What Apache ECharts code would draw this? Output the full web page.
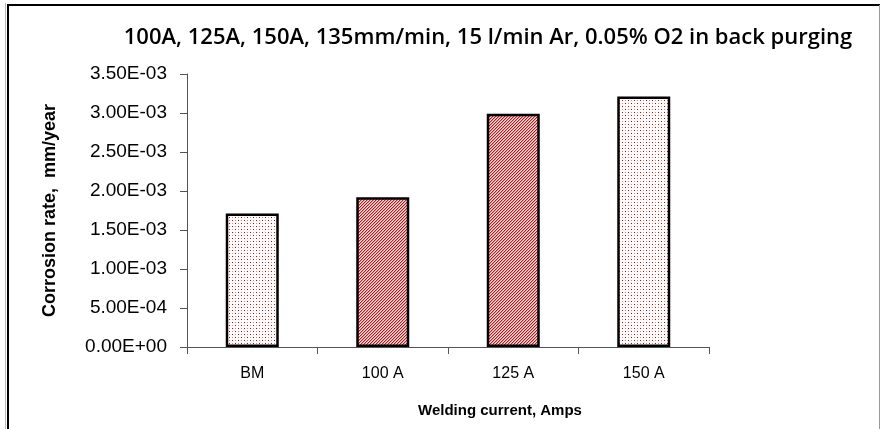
<!DOCTYPE html>
<html>
<head>
<meta charset="utf-8">
<script src="https://cdn.jsdelivr.net/npm/echarts@6/dist/echarts.min.js"></script>
<style>
  html, body { margin: 0; padding: 0; background: #fff; }
  #chart { width: 880px; height: 429px; }
</style>
</head>
<body>
<div id="chart"></div>
<script>
  // data
  var categories = ['BM', '100 A', '125 A', '150 A']
  var corrosionRate = [0.00171, 0.00192, 0.00299, 0.00321]
  var patternKind = ['dots', 'hatch', 'hatch', 'dots']

  // fill patterns, like the excel dot / diagonal fills
  function makePattern(kind) {
    var c = document.createElement('canvas')
    var ctx = c.getContext('2d')
    if (kind === 'hatch') {
      c.width = 3
      c.height = 3
      ctx.fillStyle = '#f6dede'
      ctx.fillRect(0, 0, 3, 3)
      for (var i = 0; i < 3; i++) {
        ctx.fillStyle = '#b81818'
        ctx.fillRect(i, 2 - i, 1, 1)
        ctx.fillStyle = '#e29a9a'
        ctx.fillRect((i + 1) % 3, 2 - i, 1, 1)
      }
    } else {
      c.width = 6
      c.height = 6
      ctx.fillStyle = '#fff'
      ctx.fillRect(0, 0, 6, 6)
      ctx.fillStyle = '#c00000'
      ctx.fillRect(1, 1, 1, 1)
      ctx.fillRect(4, 4, 1, 1)
      ctx.fillStyle = '#f08080'
      ctx.fillRect(4, 1, 1, 1)
      ctx.fillRect(1, 4, 1, 1)
    }
    return c
  }

  var patterns = {dots: makePattern('dots'), hatch: makePattern('hatch')}

  function sci(v) {
    if (v === 0) return '0.00E+00'
    var e = Math.floor(Math.log10(Math.abs(v)) + 1e-9)
    var m = v / Math.pow(10, e)
    var sign = e < 0 ? '-' : '+'
    var ex = Math.abs(e)
    return m.toFixed(2) + 'E' + sign + (ex < 10 ? '0' + ex : ex)
  }

  var chart = echarts.init(document.getElementById('chart'))

  chart.setOption({
    animation: false,
    backgroundColor: '#fff',
    title: {
      text: '100A, 125A, 150A, 135mm/min, 15 l/min Ar, 0.05% O2 in back purging',
      left: 483,
      textAlign: 'center',
      top: 22,
      textStyle: {
        fontFamily: 'Open Sans',
        fontSize: 22,
        fontWeight: 600,
        color: '#000'
      }
    },
    graphic: [
      {
        type: 'line',
        shape: {x1: 5.5, y1: 3, x2: 5.5, y2: 429},
        style: {stroke: '#bbb', lineWidth: 1}
      },
      {
        type: 'line',
        shape: {x1: 8, y1: 4, x2: 8, y2: 429},
        style: {stroke: '#000', lineWidth: 2}
      },
      {
        type: 'line',
        shape: {x1: 7, y1: 5, x2: 880, y2: 5},
        style: {stroke: '#000', lineWidth: 2}
      },
      {
        type: 'line',
        shape: {x1: 879.5, y1: 5, x2: 879.5, y2: 429},
        style: {stroke: '#999', lineWidth: 1}
      }
    ],
    grid: {
      left: 187,
      right: 171,
      top: 74,
      bottom: 82
    },
    xAxis: {
      type: 'category',
      data: categories,
      name: 'Welding current, Amps',
      nameLocation: 'middle',
      nameGap: 56,
      nameTextStyle: {
        fontFamily: 'Liberation Sans',
        fontSize: 15,
        fontWeight: 'bold',
        color: '#000',
        padding: [0, 0, 0, 104]
      },
      axisLine: {lineStyle: {color: '#555', width: 1}},
      axisTick: {show: true, length: 7, lineStyle: {color: '#555'}},
      axisLabel: {
        margin: 19,
        fontFamily: 'Liberation Sans',
        fontSize: 16,
        color: '#000'
      }
    },
    yAxis: {
      type: 'value',
      min: 0,
      max: 0.0035,
      interval: 0.0005,
      name: 'Corrosion rate,  mm/year',
      nameLocation: 'middle',
      nameGap: 128,
      nameTextStyle: {
        fontFamily: 'Liberation Sans',
        fontSize: 18,
        fontWeight: 'bold',
        color: '#000'
      },
      axisLine: {show: true, lineStyle: {color: '#555', width: 1}},
      axisTick: {show: true, length: 7, lineStyle: {color: '#555'}},
      splitLine: {show: false},
      axisLabel: {
        margin: 20,
        fontFamily: 'Liberation Sans',
        fontSize: 19,
        color: '#000',
        formatter: sci
      }
    },
    series: [
      {
        type: 'bar',
        barWidth: 53,
        data: corrosionRate.map(function (v, i) {
          return {
            value: v,
            itemStyle: {
              color: {image: patterns[patternKind[i]], repeat: 'repeat'}
            }
          }
        }),
        itemStyle: {
          borderColor: '#000',
          borderWidth: 2.5
        }
      }
    ]
  })
</script>
</body>
</html>
